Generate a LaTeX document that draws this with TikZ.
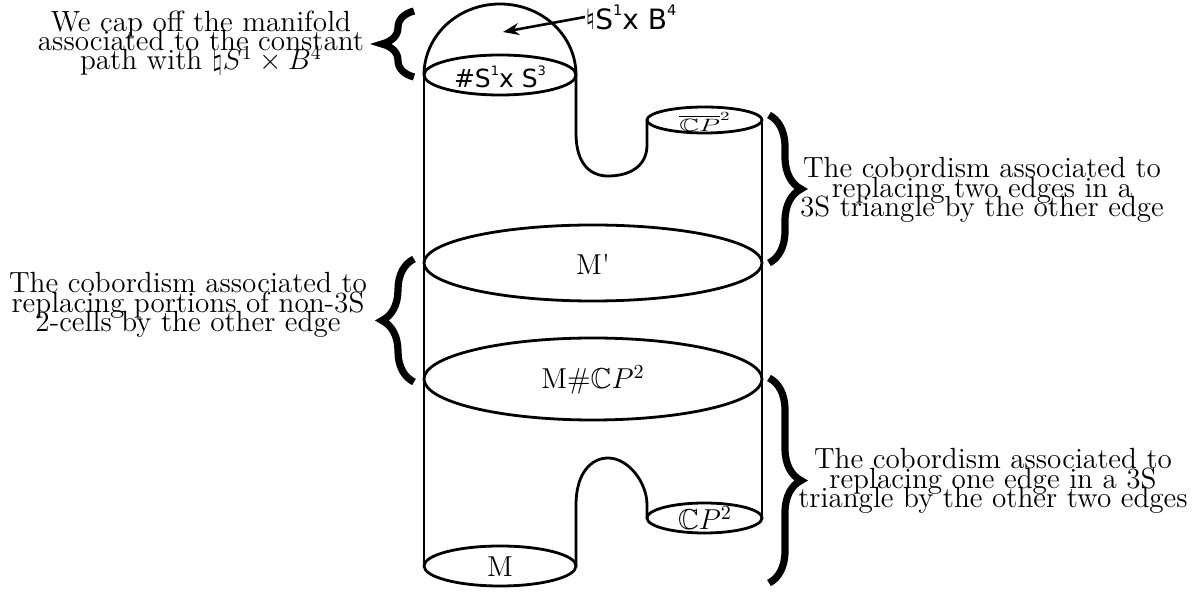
\documentclass[tikz,border=0pt]{standalone}
\usepackage{amssymb}
\usepackage{fontspec}
\newfontfamily\dejavu{DejaVu Sans}
\usetikzlibrary{decorations.pathreplacing,arrows.meta}
\newcommand{\supsm}[1]{\raisebox{0.5em}{\fontsize{6.5}{6.5}\selectfont #1}}
\newcommand{\supbig}[1]{\raisebox{0.5em}{\fontsize{7.3}{7.3}\selectfont #1}}
\newcommand{\tightnote}{\fontsize{14.6}{9.7}\selectfont\lineskiplimit-100pt\relax\lineskip0pt\relax}
\begin{document}
\begin{tikzpicture}[x=0.5pt,y=-0.5pt,
  outline/.style={line width=1.4pt},
  wall/.style={line width=0.9pt},
  bracebig/.style={decorate, decoration={brace, amplitude=16pt}, line width=3.6pt},
  note/.style={align=center, font=\tightnote, inner sep=0pt},
  lbl/.style={font=\fontsize{14.4}{16}\selectfont, inner sep=0pt},
  sanslbl/.style={font=\dejavu\fontsize{12.5}{14}\selectfont, inner sep=0pt}]
\useasboundingbox (0,0) rectangle (1203,592);

% dome and top ellipse
\draw[outline] (424,75) .. controls (424,35.5) and (458,4) .. (500,4)
  .. controls (542,4) and (576,35.5) .. (576,75);
\draw[outline] (500,75) ellipse[x radius=76, y radius=20];

% left wall
\draw[wall] (424,75) -- (424,566);

% upper bump
\draw[outline] (576,75) -- (576,133) .. controls (576,166) and (592,176) .. (608,176)
  .. controls (630,176) and (647,166) .. (647,145) -- (647,120);
\draw[outline] (704.5,120) ellipse[x radius=57.5, y radius=13];

% right wall
\draw[wall] (762,120) -- (762,518);

% big ellipses
\draw[outline] (593,263) ellipse[x radius=169, y radius=38];
\draw[outline] (593,379) ellipse[x radius=169, y radius=41];

% bottom
\draw[outline] (500,566) ellipse[x radius=76, y radius=20];
\draw[outline] (576,566) -- (576,505) .. controls (576,472) and (592,458) .. (608,458)
  .. controls (628,458) and (647,482) .. (647,505) -- (647,518);
\draw[outline] (704.5,518) ellipse[x radius=57.5, y radius=15];

% labels inside
\node[sanslbl] (s1s3) at (500,77) {\#S\supsm{1}x S\supsm{3}};
\node[sanslbl, font=\dejavu\fontsize{14}{16}\selectfont, anchor=west] (cap) at (585,17) {♮S\supbig{1}x B\supbig{4}};
\coordinate (capin) at (503,32);
\draw[line width=1.3pt, -{Stealth[length=8pt,width=6pt]}] (cap.west) -- (capin);

\node[lbl] (cpbar) at (705,122) {\scalebox{0.95}[0.62]{$\overline{\mathbb{C}P}^2$}};
\node[lbl] (mprime) at (593,264) {M\textquotesingle};
\node[lbl] (mcp) at (593,380) {M\#$\mathbb{C}P^2$};
\node[lbl] (m) at (500,567) {M};
\node[lbl] (cp) at (705,518) {$\mathbb{C}P^2$};

% braces
\draw[bracebig] (414,77) -- (414,11);
\draw[bracebig] (414,382) -- (414,259);
\draw[bracebig] (769,115) -- (769,263);
\draw[bracebig] (769,378) -- (769,583);

% notes
\node[note] (ntl) at (201,43) {We cap off the manifold\\associated to the constant\\path with $\natural S^1\times B^4$};
\node[note] (nml) at (188,305) {The cobordism associated to\\replacing portions of non-3S\\2-cells by the other edge};
\node[note] (ntr) at (982,190) {The cobordism associated to\\replacing two edges in a\\3S triangle by the other edge};
\node[note] (nbr) at (993,481) {The cobordism associated to\\replacing one edge in a 3S\\triangle by the other two edges};
\end{tikzpicture}
\end{document}
